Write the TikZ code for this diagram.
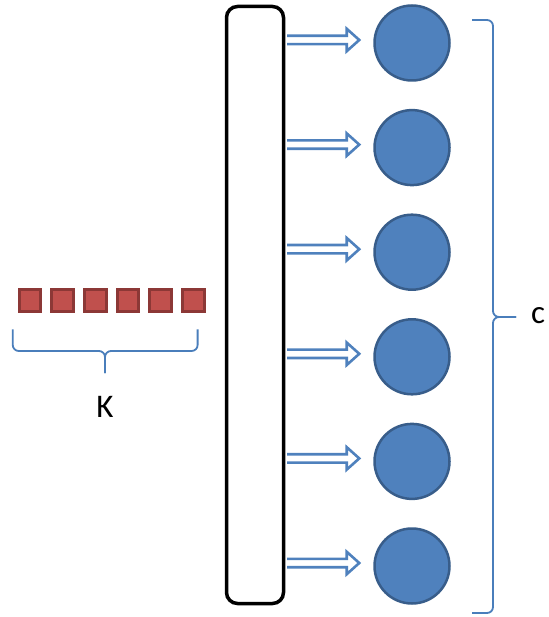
\documentclass[tikz,border=0pt]{standalone}
\usepackage{fontspec}
\setmainfont{Carlito}
\usetikzlibrary{calc,positioning}
\definecolor{UnitColor}{HTML}{4F81BD}
\definecolor{UnitEdge}{HTML}{385D8A}
\definecolor{CellColor}{HTML}{C0504D}
\definecolor{CellEdge}{HTML}{8C3836}
\definecolor{BraceColor}{HTML}{4A7EBB}

\begin{document}
\begin{tikzpicture}[x=1pt,y=1pt,
    cell/.style={draw=CellEdge,fill=CellColor,line width=3pt,minimum size=21.5pt,inner sep=0pt},
    unit/.style={circle,draw=UnitEdge,fill=UnitColor,line width=2.5pt,minimum size=75pt,inner sep=0pt},
    layer/.style={draw=black,line width=3.5pt,rounded corners=11pt,minimum width=57pt,minimum height=597pt,inner sep=0pt},
    feed/.style={draw=UnitColor,fill=white,line width=2.6pt,line join=miter},
    bracket/.style={draw=BraceColor,line width=1.8pt,rounded corners=6pt},
    lbl/.style={font=\fontsize{33}{38}\selectfont,inner sep=0pt}]
  \useasboundingbox (0,0) rectangle (548,-617);
  % input cells
  \foreach \i in {1,...,6}
    \node[cell] (s\i) at ({30+32.67*(\i-1)},-300.5) {};
  \node[lbl,anchor=base] (K) at (105,-417) {K};
  \coordinate (kmid) at (105,-351);
  \draw[bracket] ($(s1.south west)+(-5,-16.5)$) |- (kmid) -- ++(0,-22);
  \draw[bracket] ($(s6.south east)+(-8,-16.5)$) |- (kmid) -- ++(0,-22);
  % layer and output units
  \node[layer] (box) at (255,-305) {};
  \foreach \i in {1,...,6}{
    \node[unit] (c\i) at (412,{-43-104.6*(\i-1)}) {};
    \draw[feed] ($(box.east|-c\i)+(1.75,7.2)$) -- ($(c\i.west)+(-26.5,7.2)$)
      -- ($(c\i.west)+(-26.5,14.2)$) -- ($(c\i.west)+(-14,3)$)
      -- ($(c\i.west)+(-26.5,-8.2)$) -- ($(c\i.west)+(-26.5,-1.2)$)
      -- ($(box.east|-c\i)+(1.75,-1.2)$);
  }
  \node[lbl,anchor=base west] (C) at (531,-323) {c};
  \coordinate (cmid) at (493,-317);
  \draw[bracket] (472,-20) -| (cmid) -- ++(23,0);
  \draw[bracket] (472,-613) -| (cmid) -- ++(23,0);
\end{tikzpicture}
\end{document}
